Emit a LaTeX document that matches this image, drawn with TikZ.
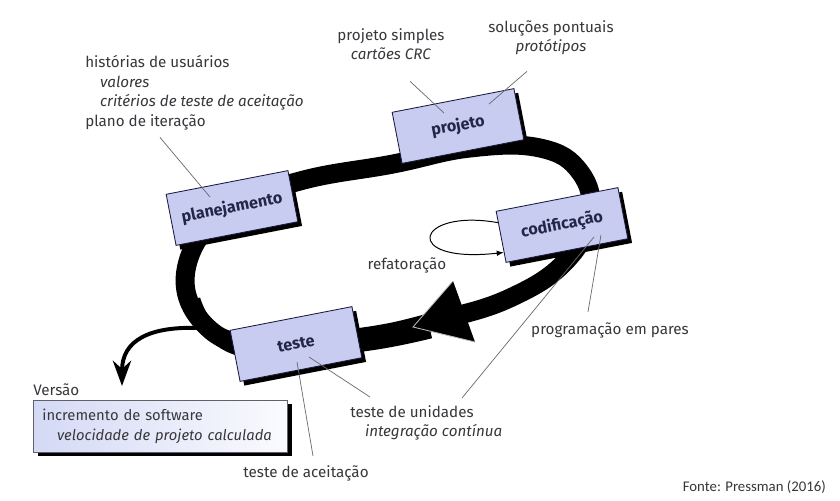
\documentclass[tikz,border=0pt]{standalone}
\usepackage{fontspec}
\setmainfont{Fira Sans}
\newfontfamily\fontefont{Carlito}
\usetikzlibrary{arrows.meta,calc,shadows}

\begin{document}
\begin{tikzpicture}[x=0.025cm, y=-0.025cm,
    etapa/.style={draw=xpmarinho, line width=0.6pt, fill=xplilas, rotate=11,
        minimum width=3.1cm, minimum height=1.3cm, inner sep=0pt,
        font=\fontsize{11.5}{13}\selectfont\bfseries, text=xprotulo,
        drop shadow={shadow xshift=3pt, shadow yshift=-3pt, fill=black, opacity=1}},
    nota/.style={font=\fontsize{10.8}{14}\selectfont, text=xptexto, inner sep=0pt, align=left},
    guia/.style={draw=xpcinza, line width=0.5pt}]
    % Define colors
    \definecolor{xplilas}{RGB}{199,204,240}
    \definecolor{xpmarinho}{RGB}{25,25,60}
    \definecolor{xprotulo}{RGB}{35,38,72}
    \definecolor{xptexto}{RGB}{55,55,60}
    \definecolor{xpcinza}{RGB}{105,105,105}
    \definecolor{xpclaro}{RGB}{212,217,245}

    % Canvas
    \path[use as bounding box, fill=white] (0,0) rectangle (840,500);

    % Iteration loop (thick band, wider at the front)
    \draw[line width=13.5pt, line join=round] plot[smooth cycle, tension=0.7] coordinates
        {(186,270) (205,325) (260,345) (363,337) (440,320) (510,298) (565,262)
         (590,215) (580,172) (540,148) (470,148) (393,164) (300,181) (225,210)};
    \draw[line width=12pt] plot[smooth, tension=0.7] coordinates
        {(192,300) (212,332) (262,351) (363,343) (430,330)};

    % Release arrow leaving the loop
    \coordinate (saida) at (200,328);
    \coordinate (entrega) at (122,386);
    \draw[line width=2.8pt, -{Stealth[length=18pt, width=13pt]}]
        (saida) .. controls (150,326) and (122,340) .. (entrega);

    % Big arrowhead on the band
    \filldraw[fill=black, draw=gray!55, line width=0.6pt] (453,281) -- (413,327) -- (475,342);

    % Activities
    \node[etapa] (plan) at (232,208) {planejamento};
    \node[etapa] (proj) at (458,126) {projeto};
    \node[etapa] (cod) at (562,225) {codificação};
    \node[etapa] (tst) at (296,344) {teste};

    % Refactoring loop
    \draw[line width=0.7pt, -{Latex[length=5pt, width=4pt]}]
        ($(cod.west)!0.55!(cod.north west)$) .. controls (415,208) and (400,264) ..
        ($(cod.west)!0.6!(cod.south west)$);
    \node[nota] (refat) at (407,265) {refatoração};

    % Notes
    \node[nota, anchor=north west] (hist) at (85,55)
        {histórias de usuários\\
         \hspace*{10.5pt}\textit{valores}\\
         \hspace*{10.5pt}\textit{critérios de teste de aceitação}\\
         plano de iteração};
    \node[nota, anchor=north, align=center] (simples) at (391,28)
        {projeto simples\\ \textit{cartões CRC}};
    \node[nota, anchor=north, align=center] (pontuais) at (551,20)
        {soluções pontuais\\ \textit{protótipos}};
    \node[nota, anchor=base] (pares) at (610,334) {programação em pares};
    \node[nota, anchor=north west] (unid) at (350,405)
        {teste de unidades\\ \hspace*{10.5pt}\textit{integração contínua}};
    \node[nota, anchor=base] (aceit) at (306,477) {teste de aceitação};

    % Leaders
    \draw[guia] ($(hist.south west)+(75,7)$) -- ($(plan)+(-22,-11)$);
    \draw[guia] ($(simples.south)+(19,21)$) -- ($(proj)+(-14,-13)$);
    \draw[guia] ($(pontuais.south)+(-24,16)$) -- ($(proj)+(31,-22)$);
    \draw[guia] ($(pares.north)+(-22,-10)$) -- ($(cod)+(39,10)$);
    \draw[guia] ($(unid.north west)+(112,-7)$) -- ($(cod)+(32,12)$);
    \draw[guia] ($(unid.north west)+(20,-8)$) -- ($(tst)+(13,13)$);
    \draw[guia] ($(aceit.north)+(7,-9)$) -- ($(tst)+(1,18)$);

    % Release box
    \node[nota, anchor=base west] (versao) at (33,395) {Versão};
    \node[nota, font=\fontsize{10.5}{14}\selectfont, anchor=west,
        draw=gray!70!xpmarinho, line width=0.5pt, left color=xpclaro, right color=white!92!xplilas,
        text width=5.9cm, inner xsep=6.4pt, minimum height=1.3cm,
        drop shadow={shadow xshift=3.2pt, shadow yshift=-2.8pt, fill=black, opacity=1}]
        (incr) at (33,426)
        {incremento de software\\ \hspace*{10.5pt}\textit{velocidade de projeto calculada}};

    % Source
    \node[font=\fontefont\fontsize{10.5}{12}\selectfont, text=xptexto, inner sep=0pt,
        anchor=base east] (fonte) at (826,491) {Fonte: Pressman (2016)};
\end{tikzpicture}
\end{document}
